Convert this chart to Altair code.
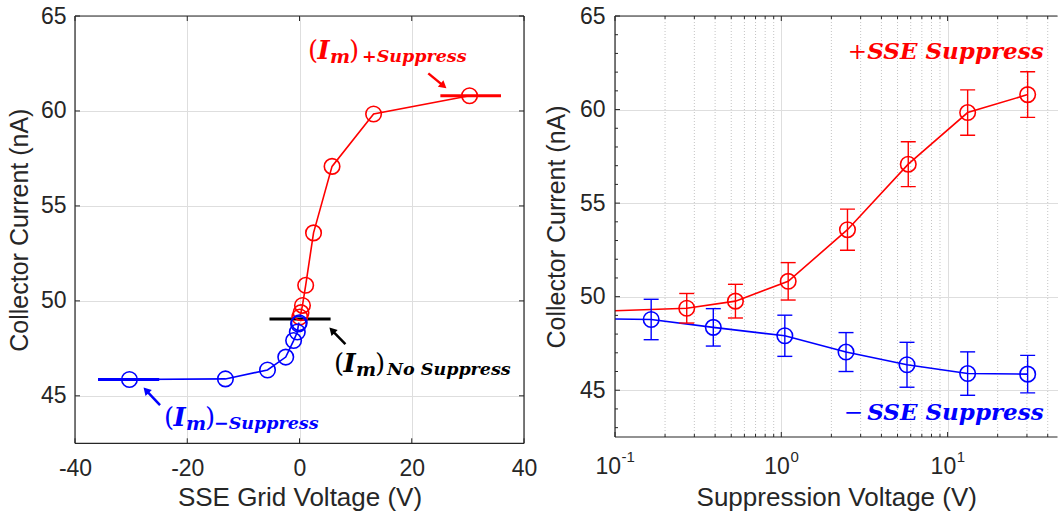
import altair as alt
import pandas as pd

# ---------------- data ----------------
red_v = [0.05, 0.27, 0.53, 1.1, 2.5, 5.8, 13.2, 30.3]
red_i = [49.15, 49.38, 49.76, 50.82, 53.58, 57.08, 59.84, 60.80]
red_err = [0.8, 0.79, 0.9, 1.0, 1.1, 1.2, 1.21, 1.22]
blue_v = [0.05, 0.165, 0.39, 1.05, 2.45, 5.7, 13.2, 30.3]
blue_i = [48.85, 48.78, 48.36, 47.91, 47.04, 46.36, 45.89, 45.86]
blue_err = [1.0, 1.08, 1.0, 1.1, 1.04, 1.2, 1.16, 1.0]

# reference current levels (Im) drawn as short horizontal bars
ref_s = ["plus", "minus", "none"]
ref_x1 = [25.1, -35.9, -5.35]
ref_x2 = [35.9, -25.0, 5.54]
ref_y = [60.8, 45.86, 49.05]

# annotation arrows (tail -> head) in data units of the left panel
arr_s = ["plus", "minus", "none"]
arr_x1 = [22.95, -24.85, 8.18]
arr_y1 = [61.98, 44.51, 47.72]
arr_x2 = [25.66, -27.33, 5.79]
arr_y2 = [61.32, 45.29, 48.45]
arr_ang = [129.9, 316.8, 315.9]

# annotation label anchors (left panel)
ann_s = ["plus", "minus", "none"]
ann_x = [1.51, -24.14, 6.15]
ann_y = [62.75, 43.39, 46.25]
ann_sub = ["+Suppress", "\u2212Suppress", "No Suppress"]
ann_subdx = [54, 50, 53]

# right panel labels
lab_sign = ["+", "\u2212"]
lab_s = ["plus", "minus"]
lab_xs = [2.507, 2.372]
lab_xt = [3.287, 3.287]
lab_y = [62.72, 43.41]
lab_text = ["SSE Suppress", "SSE Suppress"]

# ticks
xl_ticks = [-40, -20, 0, 20, 40]
y_ticks = [45, 50, 55, 60, 65]
y_minor = [43, 44, 46, 47, 48, 49, 51, 52, 53, 54, 56, 57, 58, 59, 61, 62, 63, 64]
xr_ticks = [0.1, 1, 10]
xr_exp = ["-1", "0", "1"]
xr_minor = [0.2, 0.3, 0.4, 0.5, 0.6, 0.7, 0.8, 0.9, 2, 3, 4, 5, 6, 7, 8, 9, 20, 30, 40]

# ---------------- styles ----------------
W1, H1 = 449, 427.3
W2, H2 = 442.5, 421
XR_MAX = 45.8
YDOM = [42.5, 65]
AX = "#262626"
GRID = "#dedede"
FONT = "Liberation Sans"
SERIF = "DejaVu Serif"
LFS = 23
COLS = alt.Scale(domain=["plus", "minus", "none"], range=["#ff0000", "#0000ff", "#000000"])
color = alt.Color("s:N", scale=COLS, legend=None)
one = pd.DataFrame({"k": [0]})

# ---------------- left panel ----------------
xsL = alt.Scale(domain=[-40, 40], nice=False, zero=False)
ysc = alt.Scale(domain=YDOM, nice=False, zero=False)
axXL = alt.Axis(values=xl_ticks, labelExpr="'' + datum.value", title="SSE Grid Voltage (V)",
                grid=True, gridColor=GRID, ticks=False, domain=False, labelFlush=False,
                labelFont=FONT, titleFont=FONT, labelFontSize=LFS, titleFontSize=26,
                labelColor=AX, titleColor=AX, titleFontWeight="normal",
                labelPadding=14, titlePadding=4)
axYL = alt.Axis(values=y_ticks, title="Collector Current (nA)", grid=True, gridColor=GRID,
                ticks=False, domain=False, labelFont=FONT, titleFont=FONT,
                labelFontSize=LFS, titleFontSize=25, labelColor=AX, titleColor=AX,
                titleFontWeight="normal", labelPadding=9, titlePadding=8)


def XL(f):
    return alt.X(f, type="quantitative", scale=xsL, axis=axXL)


def YL(f):
    return alt.Y(f, type="quantitative", scale=ysc, axis=axYL)


left_df = pd.DataFrame({
    "v": red_v + [-v for v in blue_v],
    "i": red_i + blue_i,
    "s": ["plus"] * len(red_v) + ["minus"] * len(blue_v),
})
ref_df = pd.DataFrame({"s": ref_s, "x1": ref_x1, "x2": ref_x2, "y": ref_y})
arr_df = pd.DataFrame({"s": arr_s, "x1": arr_x1, "y1": arr_y1, "x2": arr_x2, "y2": arr_y2, "ang": arr_ang})
ann_df = pd.DataFrame({"s": ann_s, "x": ann_x, "y": ann_y, "sub": ann_sub})

layersL = []
layersL.append(alt.Chart(ref_df).mark_rule(strokeWidth=3).encode(x=XL("x1"), x2="x2", y=YL("y"), color=color))
layersL.append(alt.Chart(left_df).mark_line(strokeWidth=1.6).encode(
    x=XL("v"), y=YL("i"), color=color, detail="s:N", order="v:Q"))
layersL.append(alt.Chart(left_df).mark_point(shape="circle", filled=False, size=240, strokeWidth=1.6, opacity=1).encode(
    x=XL("v"), y=YL("i"), color=color))
layersL.append(alt.Chart(arr_df).mark_rule(strokeWidth=2.5).encode(
    x=XL("x1"), y=YL("y1"), x2="x2", y2="y2", color=color))
layersL.append(alt.Chart(arr_df).mark_point(shape="triangle-up", filled=True, size=75, opacity=1).encode(
    x=XL("x2"), y=YL("y2"), angle=alt.Angle("ang:Q", scale=None), color=color))

pieces = [("(", 0, 0, 26, "normal", "normal"),
          ("I", 9.5, 0, 26, "italic", "bold"),
          ("m", 22, 4, 19, "italic", "bold"),
          (")", 41, 0, 26, "normal", "normal")]
for txt, dx, dy, fs, st, wt in pieces:
    layersL.append(alt.Chart(ann_df).mark_text(align="left", baseline="alphabetic", dx=dx, dy=dy, font=SERIF,
                                               fontSize=fs, fontStyle=st, fontWeight=wt).encode(
        x=XL("x"), y=YL("y"), color=color, text=alt.value(txt)))
for k in range(len(ann_s)):
    layersL.append(alt.Chart(ann_df.iloc[[k]]).mark_text(align="left", baseline="alphabetic", dx=ann_subdx[k], dy=3,
                                                         font=SERIF, fontSize=17.5, fontStyle="italic",
                                                         fontWeight="bold").encode(
        x=XL("x"), y=YL("y"), color=color, text="sub:N"))

xtL = pd.DataFrame({"t": xl_ticks})
ytL = pd.DataFrame({"t": y_ticks})
layersL.append(alt.Chart(xtL).mark_rule(color=AX).encode(x=XL("t"), y=alt.value(H1), y2=alt.value(H1 - 5)))
layersL.append(alt.Chart(xtL).mark_rule(color=AX).encode(x=XL("t"), y=alt.value(0), y2=alt.value(5)))
layersL.append(alt.Chart(ytL).mark_rule(color=AX).encode(y=YL("t"), x=alt.value(0), x2=alt.value(5)))
layersL.append(alt.Chart(ytL).mark_rule(color=AX).encode(y=YL("t"), x=alt.value(W1), x2=alt.value(W1 - 5)))
for enc in [dict(x=alt.value(0), x2=alt.value(W1), y=alt.value(0)),
            dict(x=alt.value(0), x2=alt.value(W1), y=alt.value(H1)),
            dict(y=alt.value(0), y2=alt.value(H1), x=alt.value(0)),
            dict(y=alt.value(0), y2=alt.value(H1), x=alt.value(W1))]:
    layersL.append(alt.Chart(one).mark_rule(color=AX, strokeWidth=1.2).encode(**enc))

left = alt.layer(*layersL).properties(width=W1, height=H1)

# ---------------- right panel ----------------
xsR = alt.Scale(type="log", domain=[0.1, XR_MAX], nice=False)
axXR = alt.Axis(values=xr_ticks, labels=False, title="Suppression Voltage (V)", grid=True, gridColor=GRID,
                ticks=False, domain=False, titleFont=FONT, titleFontSize=26, titleColor=AX,
                titleFontWeight="normal", titlePadding=47)
axYR = alt.Axis(values=y_ticks, title="Collector Current (nA)", grid=True, gridColor=GRID,
                ticks=False, domain=False, labelFont=FONT, titleFont=FONT,
                labelFontSize=LFS, titleFontSize=25, labelColor=AX, titleColor=AX,
                titleFontWeight="normal", labelPadding=10, titlePadding=10)


def XR(f):
    return alt.X(f, type="quantitative", scale=xsR, axis=axXR)


def YR(f):
    return alt.Y(f, type="quantitative", scale=ysc, axis=axYR)


right_df = pd.DataFrame({
    "v": red_v + blue_v,
    "i": red_i + blue_i,
    "e": red_err + blue_err,
    "s": ["plus"] * len(red_v) + ["minus"] * len(blue_v),
})
right_df["lo"] = right_df["i"] - right_df["e"]
right_df["hi"] = right_df["i"] + right_df["e"]

layersR = []
layersR.append(alt.Chart(pd.DataFrame({"t": xr_minor})).mark_rule(color="#c4c4c4", strokeDash=[1, 2], strokeWidth=1, clip=True).encode(
    x=XR("t")))
layersR.append(alt.Chart(right_df).mark_line(strokeWidth=1.6, clip=True).encode(
    x=XR("v"), y=YR("i"), color=color, detail="s:N", order="v:Q"))
layersR.append(alt.Chart(right_df).mark_rule(strokeWidth=1.4, clip=True).encode(
    x=XR("v"), y=YR("lo"), y2="hi", color=color))
layersR.append(alt.Chart(right_df).mark_tick(orient="horizontal", size=15, thickness=1.4, clip=True, opacity=1).encode(
    x=XR("v"), y=YR("lo"), color=color))
layersR.append(alt.Chart(right_df).mark_tick(orient="horizontal", size=15, thickness=1.4, clip=True, opacity=1).encode(
    x=XR("v"), y=YR("hi"), color=color))
layersR.append(alt.Chart(right_df).mark_point(shape="circle", filled=False, size=240, strokeWidth=1.6, clip=True, opacity=1).encode(
    x=XR("v"), y=YR("i"), color=color))

lab_df = pd.DataFrame({"s": lab_s, "xs": lab_xs, "xt": lab_xt, "y": lab_y, "sign": lab_sign, "txt": lab_text})
layersR.append(alt.Chart(lab_df).mark_text(align="left", baseline="alphabetic", font=SERIF, fontSize=23).encode(
    x=XR("xs"), y=YR("y"), color=color, text="sign:N"))
layersR.append(alt.Chart(lab_df).mark_text(align="left", baseline="alphabetic", font=SERIF, fontSize=23,
                                           fontStyle="italic", fontWeight="bold").encode(
    x=XR("xt"), y=YR("y"), color=color, text="txt:N"))

xtR = pd.DataFrame({"t": xr_ticks})
xmR = pd.DataFrame({"t": xr_minor})
ymR = pd.DataFrame({"t": y_minor})
layersR.append(alt.Chart(xtR).mark_rule(color=AX).encode(x=XR("t"), y=alt.value(H2), y2=alt.value(H2 - 5)))
layersR.append(alt.Chart(xtR).mark_rule(color=AX).encode(x=XR("t"), y=alt.value(0), y2=alt.value(5)))
layersR.append(alt.Chart(xmR).mark_rule(color=AX, clip=True).encode(x=XR("t"), y=alt.value(H2), y2=alt.value(H2 - 3)))
layersR.append(alt.Chart(xmR).mark_rule(color=AX, clip=True).encode(x=XR("t"), y=alt.value(0), y2=alt.value(3)))
layersR.append(alt.Chart(ytL).mark_rule(color=AX).encode(y=YR("t"), x=alt.value(0), x2=alt.value(5)))
layersR.append(alt.Chart(ymR).mark_rule(color=AX).encode(y=YR("t"), x=alt.value(0), x2=alt.value(3)))
for enc in [dict(x=alt.value(0), x2=alt.value(W2), y=alt.value(0)),
            dict(x=alt.value(0), x2=alt.value(W2), y=alt.value(H2)),
            dict(y=alt.value(0), y2=alt.value(H2), x=alt.value(0))]:
    layersR.append(alt.Chart(one).mark_rule(color=AX, strokeWidth=1.2).encode(**enc))

# tick labels 10^n
EXP_FS = 15
BASE_W = 2 * 0.556 * LFS
for k, t in enumerate(xr_ticks):
    e = xr_exp[k]
    ew = sum(0.333 if c == "-" else 0.556 for c in e) * EXP_FS
    off = BASE_W - (BASE_W + ew) / 2
    d = pd.DataFrame({"t": [t]})
    layersR.append(alt.Chart(d).mark_text(align="right", baseline="alphabetic", font=FONT, fontSize=LFS,
                                          color=AX, dx=off).encode(x=XR("t"), y=alt.value(H2 + 36.5),
                                                                   text=alt.value("10")))
    layersR.append(alt.Chart(d).mark_text(align="left", baseline="alphabetic", font=FONT, fontSize=EXP_FS,
                                          color=AX, dx=off + 0.5).encode(x=XR("t"), y=alt.value(H2 + 25),
                                                                         text=alt.value(e)))

right = alt.layer(*layersR).properties(width=W2, height=H2)

chart = alt.hconcat(left, right, spacing=7).properties(
    padding={"left": 7, "top": 5, "right": 0, "bottom": 0}, background="white"
).configure_view(stroke=None)

chart.save("out.html", embed_options={"renderer": "svg", "actions": False})
